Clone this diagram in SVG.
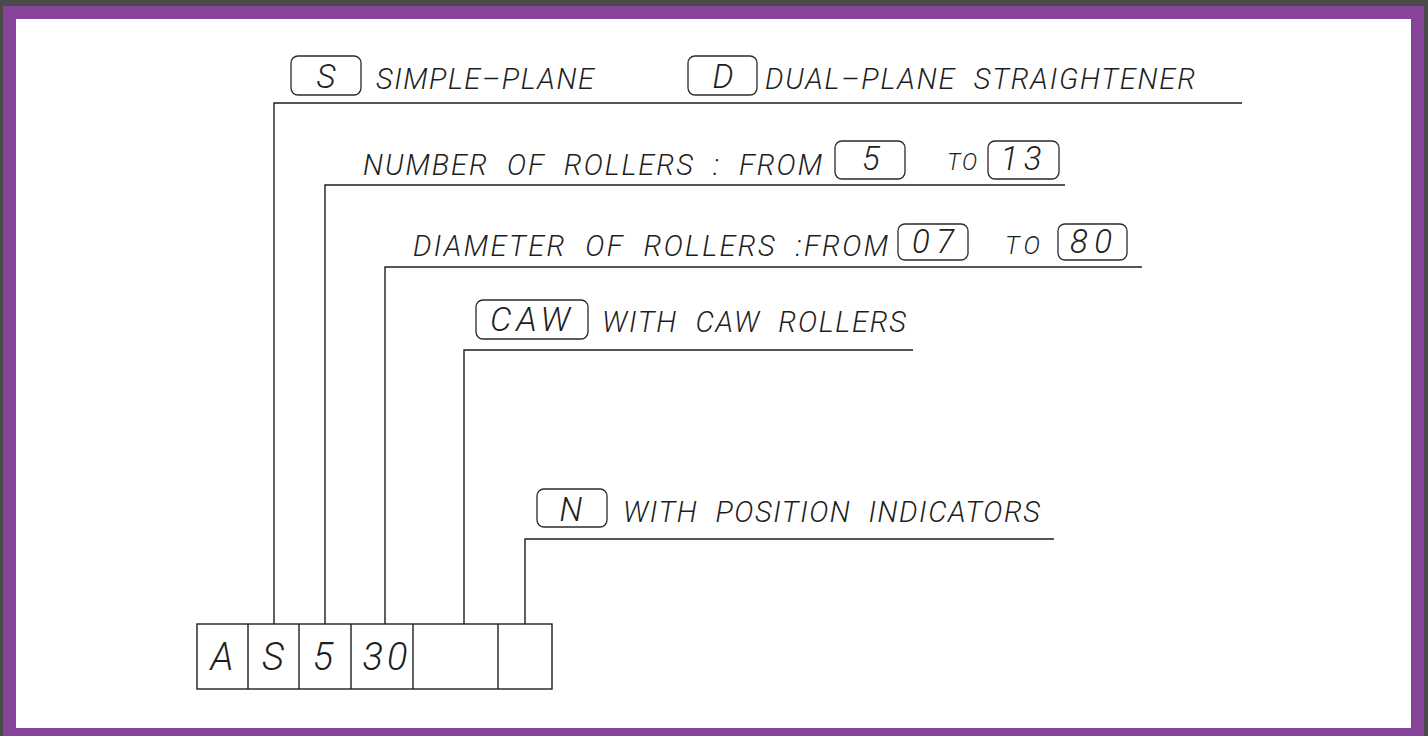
<svg xmlns="http://www.w3.org/2000/svg" width="1428" height="736" viewBox="0 0 1428 736">
<style>
text{font-family:Roboto,"Liberation Sans","DejaVu Sans",sans-serif;font-style:italic;font-weight:300;fill:#1e1e1e;white-space:pre}
.t{font-size:29px}
.b{font-size:33px;text-anchor:middle}
.s{font-size:23px}
.c{font-size:38px;text-anchor:middle}
.r{fill:none;stroke:#2a2a2a;stroke-width:1.3}
.l{fill:none;stroke:#1e1e1e;stroke-width:1.4}
</style>
<rect x="0" y="0" width="1428" height="736" fill="#4a4a4a"/>
<rect x="3" y="6" width="1421" height="730" fill="#86449a"/>
<rect x="16" y="19" width="1395" height="709" fill="#ffffff"/>
<g id="connectors" class="l">
<polyline points="274,624 274,103 1242,103"/>
<polyline points="325,624 325,185 1065,185"/>
<polyline points="385,624 385,267 1142,267"/>
<polyline points="464,624 464,350 913,350"/>
<polyline points="525,624 525,539 1054,539"/>
</g>
<g id="code-boxes">
<rect class="l" x="197" y="624" width="355" height="65"/>
<line class="l" x1="248" y1="624" x2="248" y2="689"/>
<line class="l" x1="299" y1="624" x2="299" y2="689"/>
<line class="l" x1="351" y1="624" x2="351" y2="689"/>
<line class="l" x1="413" y1="624" x2="413" y2="689"/>
<line class="l" x1="498" y1="624" x2="498" y2="689"/>
<text class="c" x="222" y="670">A</text>
<text class="c" x="273" y="670">S</text>
<text class="c" x="323" y="670">5</text>
<text class="c" x="385" y="670" textLength="45" lengthAdjust="spacing">30</text>
</g>
<g id="row-plane">
<rect class="r" x="291" y="56" width="70" height="39" rx="7"/>
<text class="b" x="326" y="88">S</text>
<text class="t" x="376" y="89" textLength="218" lengthAdjust="spacing">SIMPLE–PLANE</text>
<rect class="r" x="688" y="56" width="69" height="39" rx="7"/>
<text class="b" x="723" y="88">D</text>
<text class="t" x="765" y="89" textLength="430" lengthAdjust="spacing">DUAL–PLANE  STRAIGHTENER</text>
</g>
<g id="row-number">
<text class="t" x="363" y="175" textLength="459" lengthAdjust="spacing">NUMBER  OF  ROLLERS  :  FROM</text>
<rect class="r" x="835" y="141" width="70" height="38" rx="7"/>
<text class="b" x="871" y="170">5</text>
<text class="s" x="947" y="170" textLength="30" lengthAdjust="spacing">TO</text>
<rect class="r" x="988" y="141" width="71" height="38" rx="7"/>
<text class="b" x="1021" y="170" textLength="41" lengthAdjust="spacing">13</text>
</g>
<g id="row-diameter">
<text class="t" x="413" y="256" textLength="475" lengthAdjust="spacing">DIAMETER  OF  ROLLERS  :FROM</text>
<rect class="r" x="898" y="224" width="70" height="36" rx="7"/>
<text class="b" x="933" y="253" textLength="42" lengthAdjust="spacing">07</text>
<text class="t" x="1005" y="254" style="font-size:25px" textLength="35" lengthAdjust="spacing">TO</text>
<rect class="r" x="1058" y="224" width="69" height="36" rx="7"/>
<text class="b" x="1091" y="253" textLength="42" lengthAdjust="spacing">80</text>
</g>
<g id="row-caw">
<rect class="r" x="476" y="300" width="112" height="39" rx="7"/>
<text class="b" x="530" y="331" style="font-size:34px" textLength="80" lengthAdjust="spacing">CAW</text>
<text class="t" x="602" y="332" textLength="304" lengthAdjust="spacing">WITH  CAW  ROLLERS</text>
</g>
<g id="row-position">
<rect class="r" x="537" y="489" width="70" height="38" rx="7"/>
<text class="b" x="571" y="521">N</text>
<text class="t" x="623" y="522" textLength="417" lengthAdjust="spacing">WITH  POSITION  INDICATORS</text>
</g>
</svg>
